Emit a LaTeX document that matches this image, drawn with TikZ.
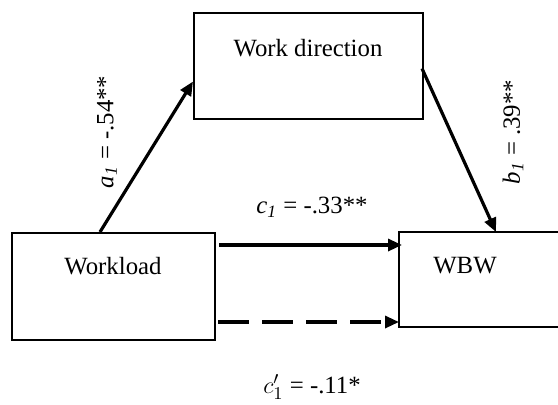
\documentclass[tikz,border=0pt]{standalone}
\usepackage{fontspec}
\setmainfont{Liberation Serif}
\usetikzlibrary{arrows.meta,calc}
\tikzset{
  box/.style={draw, line width=1pt, inner sep=0pt},
  openbox/.style={inner sep=0pt},
  edge/.style={line width=1pt},
  txt/.style={font=\fontsize{12.4}{14}\selectfont, inner sep=0pt},
  arr/.style={line width=1.6pt, -{Triangle[length=7pt,width=6pt]}},
  dsh/.style={arr, dash pattern=on 15.5pt off 6.5pt},
}
\begin{document}
\begin{tikzpicture}[x=0.5pt,y=-0.5pt]
\useasboundingbox (0,0) rectangle (558,404);
% boxes
\node[box, minimum width=114.5pt, minimum height=53pt, anchor=north west] (wd) at (193,11.5) {};
\node[box, minimum width=101.5pt, minimum height=53.5pt, anchor=north west] (wl) at (11,232) {};
\node[openbox, minimum width=110pt, minimum height=47pt, anchor=north west] (wbw) at (399,232) {};
\draw[edge] (wbw.north east) -- (wbw.north west) -- (wbw.south west) -- (wbw.south east);
% texts
\node[txt] (twd) at (308,48) {Work direction};
\node[txt] (twl) at (113,266) {Workload};
\node[txt] (twbw) at (465,266) {WBW};
% connector endpoints
\coordinate (a0) at ($(wl.north west)+(89,0)$);
\coordinate (a1) at ($(wd.north west)+(0,70)$);
\coordinate (b0) at ($(wd.north east)+(-2,57)$);
\coordinate (b1) at ($(wbw.north west)+(97,0)$);
\coordinate (c0) at ($(wl.north east)+(3,13)$);
\coordinate (c1) at ($(wbw.north west)+(3,13)$);
\coordinate (d0) at ($(wl.north east)+(2,90)$);
\coordinate (d1) at ($(wbw.north west)+(0,90)$);
\draw[arr] (a0) -- (a1);
\draw[arr] (b0) -- (b1);
\draw[arr] (c0) -- (c1);
\draw[dsh] (d0) -- (d1);
% labels
\node[txt, rotate=90] (la) at (107,132) {\textit{a\textsubscript{1}} = -.54**};
\node[txt, rotate=90] (lb) at (513,132) {\textit{b\textsubscript{1}} = .39**};
\node[txt] (lc) at (312,207) {\textit{c\textsubscript{1}} = -.33**};
\node[txt] (ld) at (312,387) {$c_1'$ = -.11*};
\end{tikzpicture}
\end{document}
